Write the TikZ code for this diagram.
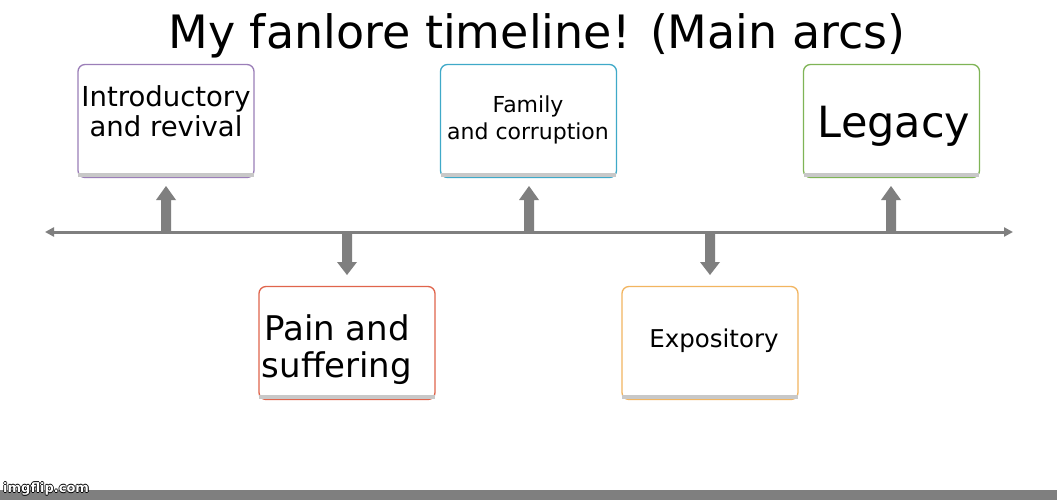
\documentclass[tikz,border=0pt]{standalone}
\usepackage{fontspec}
\setmainfont{DejaVu Sans}
\usetikzlibrary{arrows.meta}
\definecolor{arrowgray}{HTML}{7F7F7F}
\definecolor{cpurple}{HTML}{9B7EB8}
\definecolor{cblue}{HTML}{3FA9C8}
\definecolor{cgreen}{HTML}{7FB456}
\definecolor{cred}{HTML}{E0654C}
\definecolor{corange}{HTML}{F2B560}
\definecolor{shadowgray}{HTML}{C8C8C8}
\tikzset{
  arcbox/.style={draw=#1, line width=1.3pt, rounded corners=7pt, minimum width=176pt, minimum height=113pt, inner sep=0pt, fill=white},
  arctext/.style={font=#1, align=center, inner sep=0pt},
  wmtext/.style={font=\fontsize{13}{13}\selectfont\bfseries, anchor=west, inner sep=0pt},
}
\begin{document}
\begin{tikzpicture}[x=1pt,y=-1pt]
\useasboundingbox (0,0) rectangle (1057,500);
\fill[white] (0,0) rectangle (1057,500);
% bottom bar
\fill[arrowgray] (0,490) rectangle (1057,500);
\foreach \dx/\dy in {-0.8/0,0.8/0,0/-0.8,0/0.8}{
  \node[wmtext, text=black] at (3+\dx,489+\dy) {imgflip.com};
}
\node[wmtext, text=white] (wm) at (3,489) {imgflip.com};
% title
\node[font=\fontsize{46}{50}\selectfont, inner sep=0pt] (title) at (537,36) {My fanlore timeline! (Main arcs)};
% boxes
\foreach \n/\x/\y/\c in {b1/166/121/cpurple, b2/528.5/121/cblue, b3/891.5/121/cgreen, b4/347/343/cred, b5/710/343/corange}{
  \node[arcbox=\c] (\n) at (\x,\y) {};
  \fill[shadowgray] ([xshift=1pt,yshift=5pt]\n.south west) rectangle ([xshift=-1pt,yshift=1.5pt]\n.south east);
}
% texts
\node[arctext=\fontsize{27.5}{30}\selectfont] (t1) at (166,111) {Introductory\\and revival};
\node[arctext=\fontsize{22}{27}\selectfont] (t2) at (528,120) {Family\\and corruption};
\node[arctext=\fontsize{43}{45}\selectfont] (t3) at (894,126) {Legacy};
\node[arctext=\fontsize{34}{37}\selectfont] (t4) at (337,350) {Pain and\\suffering};
\node[arctext=\fontsize{24.5}{28}\selectfont] (t5) at (714,341) {Expository};
% timeline
\coordinate (L) at (45,232);
\coordinate (R) at (1013,232);
\draw[arrowgray, line width=3pt, {Triangle[length=9pt,width=9pt]}-{Triangle[length=9pt,width=9pt]}] (L) -- (R);
% up arrows
\foreach \x in {166,529,891}{
  \fill[arrowgray] (\x-5,233) -- (\x-5,200) -- (\x-10,200) -- (\x,186) -- (\x+10,200) -- (\x+5,200) -- (\x+5,233) -- cycle;
}
% down arrows
\foreach \x in {347,710}{
  \fill[arrowgray] (\x-5,231) -- (\x-5,262) -- (\x-10,262) -- (\x,275) -- (\x+10,262) -- (\x+5,262) -- (\x+5,231) -- cycle;
}
\end{tikzpicture}
\end{document}
